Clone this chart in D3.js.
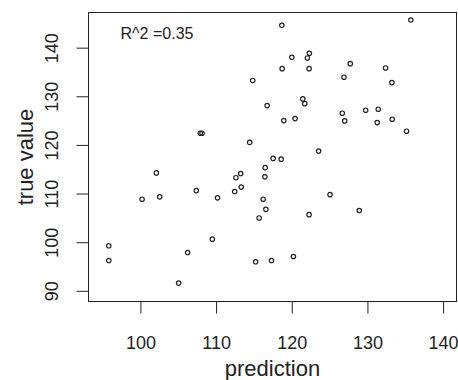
<!DOCTYPE html>
<html>
<head>
<meta charset="utf-8">
<script src="https://cdn.jsdelivr.net/npm/d3@7"></script>
<style>
  body { margin: 0; background: #fff; }
  text { font-family: "Liberation Sans", Arial, sans-serif; fill: #222; }
</style>
</head>
<body>
<div id="chart"></div>
<script>
// values
var prediction = [114.84, 107.91, 108.14, 114.44, 118.69, 135.74, 120.01, 122.33, 122.06, 118.73,
                  122.29, 127.73, 132.40, 126.90, 133.23, 121.46, 121.72, 116.75, 126.68, 127.00,
                  129.77, 131.43, 131.30, 133.27, 135.17, 118.95, 120.44, 123.55, 117.54, 118.60,
                  102.11, 100.22, 102.55, 107.39, 110.19, 112.62, 113.25, 112.46, 113.32, 115.69,
                  95.82, 95.82, 109.50, 106.24, 105.05, 115.23, 116.49, 116.45, 125.06, 116.22,
                  116.58, 122.29, 128.92, 117.32, 120.22];
var trueValue = [133.26, 122.41, 122.41, 120.52, 144.60, 145.69, 138.03, 138.85, 137.88, 135.68,
                 135.68, 136.71, 135.83, 133.92, 132.81, 129.46, 128.49, 128.08, 126.52, 124.94,
                 127.14, 127.34, 124.59, 125.29, 122.82, 125.00, 125.41, 118.73, 117.23, 117.07,
                 114.25, 108.84, 109.32, 110.61, 109.11, 113.26, 114.11, 110.41, 111.33, 104.98,
                 99.25, 96.23, 100.62, 97.87, 91.58, 95.96, 115.34, 113.43, 109.77, 108.84,
                 106.75, 105.66, 106.50, 96.23, 97.05];

var xTicks = [100, 110, 120, 130, 140];
var yTicks = [90, 100, 110, 120, 130, 140];
var r2Label = "R^2 =0.35";

var W = 458, H = 380;
var margin = {top: 12.5, right: 1.5, bottom: 78.5, left: 88.5};

var x = d3.scaleLinear().domain([93.14, 141.77]).range([margin.left, W - margin.right]);
var y = d3.scaleLinear().domain([87.8, 147.23]).range([H - margin.bottom, margin.top]);

var svg = d3.select("#chart").append("svg")
    .attr("width", W)
    .attr("height", H);

// box round the plot region
svg.append("rect")
    .attr("x", margin.left)
    .attr("y", margin.top)
    .attr("width", W - margin.left - margin.right)
    .attr("height", H - margin.top - margin.bottom)
    .attr("fill", "none")
    .attr("stroke", "#222")
    .attr("stroke-width", 1);

var xAxis = svg.append("g")
    .attr("transform", "translate(0," + (H - margin.bottom) + ")")
    .call(d3.axisBottom(x).tickValues(xTicks).tickSize(12).tickPadding(23));
var yAxis = svg.append("g")
    .attr("transform", "translate(" + margin.left + ",0)")
    .call(d3.axisLeft(y).tickValues(yTicks).tickSize(12));

[xAxis, yAxis].forEach(function(g) {
  g.select(".domain").remove();
  g.selectAll(".tick line").attr("stroke", "#222").attr("stroke-width", 1);
  g.selectAll(".tick text")
      .attr("font-family", "Liberation Sans, Arial, sans-serif")
      .attr("font-size", 18)
      .attr("fill", "#222");
});

// R puts y tick labels parallel to the axis
yAxis.selectAll(".tick text")
    .attr("x", null).attr("dy", null)
    .attr("text-anchor", "middle")
    .attr("transform", "translate(-31,0) rotate(-90)");

svg.append("text")
    .attr("x", (margin.left + W - margin.right) / 2)
    .attr("y", 376)
    .attr("text-anchor", "middle")
    .attr("font-size", 22)
    .text("prediction");

svg.append("text")
    .attr("transform", "translate(33," + ((margin.top + H - margin.bottom) / 2) + ") rotate(-90)")
    .attr("text-anchor", "middle")
    .attr("font-size", 22)
    .text("true value");

svg.append("text")
    .attr("x", 157)
    .attr("y", 38.5)
    .attr("text-anchor", "middle")
    .attr("font-size", 16)
    .text(r2Label);

svg.append("g").selectAll("circle")
    .data(prediction)
  .enter().append("circle")
    .attr("cx", function(d) { return x(d); })
    .attr("cy", function(d, i) { return y(trueValue[i]); })
    .attr("r", 2.2)
    .attr("fill", "none")
    .attr("stroke", "#222")
    .attr("stroke-width", 1.2);
</script>
</body>
</html>
